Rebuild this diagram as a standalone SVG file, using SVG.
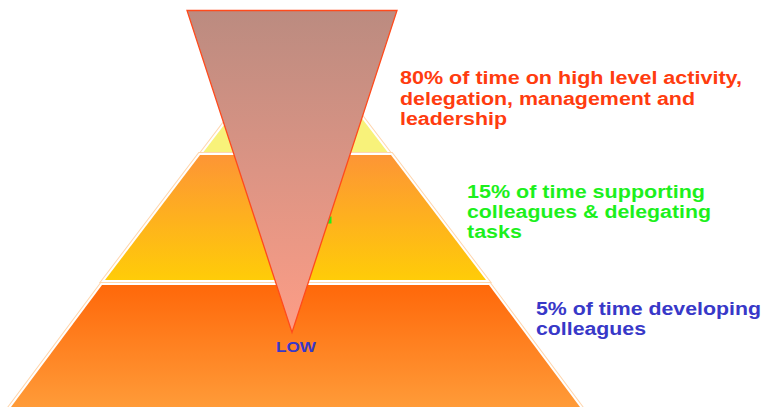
<svg xmlns="http://www.w3.org/2000/svg" xmlns:xlink="http://www.w3.org/1999/xlink" width="764" height="407" viewBox="0 0 764 407">
  <defs>
    <linearGradient id="gMid" x1="0" y1="155" x2="0" y2="280" gradientUnits="userSpaceOnUse">
      <stop offset="0" stop-color="#fd9535"/>
      <stop offset="1" stop-color="#ffcc08"/>
    </linearGradient>
    <linearGradient id="gLow" x1="0" y1="285" x2="0" y2="407" gradientUnits="userSpaceOnUse">
      <stop offset="0" stop-color="#ff680a"/>
      <stop offset="1" stop-color="#ff9b38"/>
    </linearGradient>
    <linearGradient id="gFunnel" x1="0" y1="10" x2="0" y2="332" gradientUnits="userSpaceOnUse">
      <stop offset="0" stop-color="#bb8b80"/>
      <stop offset="0.5" stop-color="#dc9484"/>
      <stop offset="1" stop-color="#fd9d86"/>
    </linearGradient>
    <polygon id="shapeTop" points="295.5,31 387.5,152 203.5,152"/>
    <polygon id="shapeMid" points="200,155 391,155 486,280 105,280"/>
    <polygon id="shapeLow" points="102,285 489,285 580,407 11,407"/>
  </defs>
  <style>
    .rim { fill: none; stroke: #ffd6ad; stroke-width: 6; stroke-linejoin: miter; }
    .gap { fill: none; stroke: #ffffff; stroke-width: 4; stroke-linejoin: miter; }
    .txt { font-family: "Liberation Sans", Arial, sans-serif; font-weight: bold; }
    .red { fill: #ff3c0f; font-size: 18px; }
    .green { fill: #1cf01c; font-size: 17.5px; }
    .blue { fill: #3838c8; font-size: 18px; }
  </style>

  <!-- pyramid tiers, each with a white gap and a pale rim -->
  <g id="layer-top">
    <use xlink:href="#shapeTop" class="rim"/>
    <use xlink:href="#shapeTop" class="gap"/>
    <use xlink:href="#shapeTop" fill="#f8f27a"/>
  </g>
  <g id="layer-middle">
    <use xlink:href="#shapeMid" class="rim"/>
    <use xlink:href="#shapeMid" class="gap"/>
    <use xlink:href="#shapeMid" fill="url(#gMid)"/>
    <rect x="328" y="216.5" width="3.5" height="7" fill="#1cf01c"/>
  </g>
  <g id="layer-bottom">
    <use xlink:href="#shapeLow" class="rim"/>
    <use xlink:href="#shapeLow" class="gap"/>
    <use xlink:href="#shapeLow" fill="url(#gLow)"/>
    <text class="txt" x="276" y="351.7" font-size="15" fill="#3838c8" textLength="40" lengthAdjust="spacingAndGlyphs">LOW</text>
  </g>

  <!-- inverted funnel over the pyramid -->
  <g id="funnel">
    <polygon points="187,10.5 397,10.5 292,332.5" fill="url(#gFunnel)" stroke="#ff4a1c" stroke-width="1.3" stroke-linejoin="miter"/>
  </g>

  <!-- side captions -->
  <g id="label-high" class="txt red">
    <text x="400" y="84" textLength="342" lengthAdjust="spacingAndGlyphs">80% of time on high level activity,</text>
    <text x="400" y="105" textLength="295" lengthAdjust="spacingAndGlyphs">delegation, management and</text>
    <text x="400" y="125" textLength="107" lengthAdjust="spacingAndGlyphs">leadership</text>
  </g>
  <g id="label-medium" class="txt green">
    <text x="467" y="197.7" textLength="238" lengthAdjust="spacingAndGlyphs">15% of time supporting</text>
    <text x="467" y="217.7" textLength="244" lengthAdjust="spacingAndGlyphs">colleagues &amp; delegating</text>
    <text x="467" y="237.7" textLength="55" lengthAdjust="spacingAndGlyphs">tasks</text>
  </g>
  <g id="label-low" class="txt blue">
    <text x="536" y="315" textLength="225" lengthAdjust="spacingAndGlyphs">5% of time developing</text>
    <text x="536" y="335" textLength="110" lengthAdjust="spacingAndGlyphs">colleagues</text>
  </g>
</svg>
